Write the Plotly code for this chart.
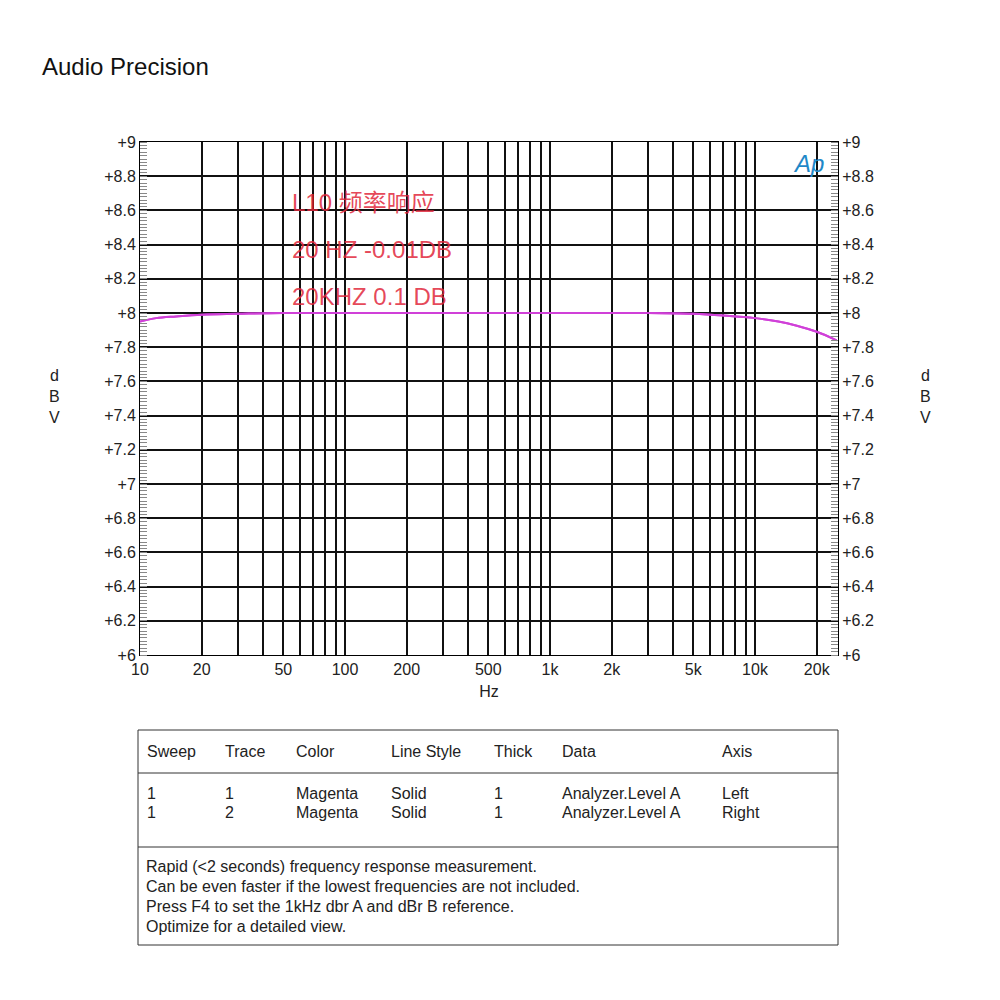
import numpy as np
import plotly.graph_objects as go

# frequency response (Hz, dBV)
freq = [10, 12, 15, 20, 30, 50, 100, 200, 500, 1000, 2000, 3000, 5000, 7000,
        10000, 13000, 16000, 20000, 25000]
level = [7.95, 7.97, 7.98, 7.99, 7.995, 8.0, 8.0, 8.0, 8.0, 8.0, 8.0, 8.0,
         7.995, 7.985, 7.97, 7.95, 7.925, 7.89, 7.84]

y_ticks = [round(6 + 0.2 * i, 1) for i in range(16)]
y_labels = ["+%g" % v for v in y_ticks]
x_grid = [m * 10 ** d for d in range(1, 5) for m in range(1, 10) if m * 10 ** d <= 25000]
x_labels_map = {10: "10", 20: "20", 50: "50", 100: "100", 200: "200", 500: "500",
                1000: "1k", 2000: "2k", 5000: "5k", 10000: "10k", 20000: "20k"}
x_labels = [x_labels_map.get(v, "") for v in x_grid]

header = ["Sweep", "Trace", "Color", "Line Style", "Thick", "Data", "Axis"]
rows = [["1", "1", "Magenta", "Solid", "1", "Analyzer.Level A", "Left"],
        ["1", "2", "Magenta", "Solid", "1", "Analyzer.Level A", "Right"]]
notes = ["Rapid (<2 seconds) frequency response measurement.",
         "Can be even faster if the lowest frequencies are not included.",
         "Press F4 to set the 1kHz dbr A and dBr B reference.",
         "Optimize for a detailed view."]

OFF = 8  # page body margin
L, R, T, B = 140, 838, 142, 655
W, H = R - L, B - T


def px(x):
    return (x - L) / W


def py(y):
    return (B - y) / H


def text(fig, x, y, s, f, anchor="left"):
    fig.add_annotation(x=px(x), y=py(y), xref="paper", yref="paper", text=s,
                       showarrow=False, xanchor=anchor, yanchor="middle", font=f)


font = dict(family="Arial, Liberation Sans", size=16, color="#222")

fig = go.Figure()
fig.add_trace(go.Scatter(x=freq, y=level, mode="lines", line=dict(color="#d040d8", width=2,
                                                                   shape="spline"),
                         showlegend=False))
fig.add_trace(go.Scatter(x=freq, y=level, mode="lines", yaxis="y2", line=dict(color="#d040d8", width=2,
                                                                                shape="spline"),
                         showlegend=False, hoverinfo="skip"))

yax = dict(range=[6, 9], tickvals=y_ticks, ticktext=y_labels, showgrid=True, gridcolor="#111",
           gridwidth=1.5, ticks="", zeroline=False, tickfont=font, showline=True,
           linecolor="black", linewidth=1,
           minor=dict(dtick=0.02, ticks="inside", ticklen=7, tickcolor="#888", showgrid=False))
fig.update_layout(
    width=1000, height=1000, paper_bgcolor="white", plot_bgcolor="white",
    margin=dict(l=L - OFF, r=1000 - R + OFF, t=T - OFF, b=1000 - B + OFF),
    xaxis=dict(type="log", range=[1, np.log10(25400)], tickvals=x_grid, ticktext=x_labels,
               showgrid=True, gridcolor="#111", gridwidth=1.5, ticks="", tickfont=font,
               showline=True, linecolor="black", mirror=True,
               title=dict(text="Hz", font=font, standoff=8)),
    yaxis=yax,
    yaxis2=dict(yax, overlaying="y", side="right", showgrid=False),
)

red = dict(family="Arial, Noto Sans CJK SC", size=24, color="rgba(225,40,60,0.85)")
for i, t in enumerate(["L10 频率响应", "20 HZ -0.01DB", "20KHZ 0.1 DB"]):
    text(fig, 290, 202 + 47 * i, t, red)
text(fig, 40, 66, "Audio Precision", dict(family="Arial, Liberation Sans", size=24, color="#111"))
text(fig, 808, 163, "<i>Ap</i>", dict(family="Arial", size=24, color="#1e88c8"), "center")
for xx in (54, 925):
    text(fig, xx, 396, "d<br>B<br>V", font, "center")

# legend table
shapes = [dict(type="rect", x0=px(138), x1=px(838), y0=py(730), y1=py(945)),
          dict(type="line", x0=px(138), x1=px(838), y0=py(773), y1=py(773)),
          dict(type="line", x0=px(138), x1=px(838), y0=py(847), y1=py(847))]
for s in shapes:
    s.update(xref="paper", yref="paper", line=dict(color="#333", width=1))
    fig.add_shape(s)
cols = [145, 223, 294, 389, 492, 560, 720]
for j, c in enumerate(cols):
    text(fig, c, 751, header[j], font)
    for r, row in enumerate(rows):
        text(fig, c, 793 + 20 * r, row[j], font)
for k, n in enumerate(notes):
    text(fig, 144, 866 + 20 * k, n, font)

fig.write_html("out.html")
